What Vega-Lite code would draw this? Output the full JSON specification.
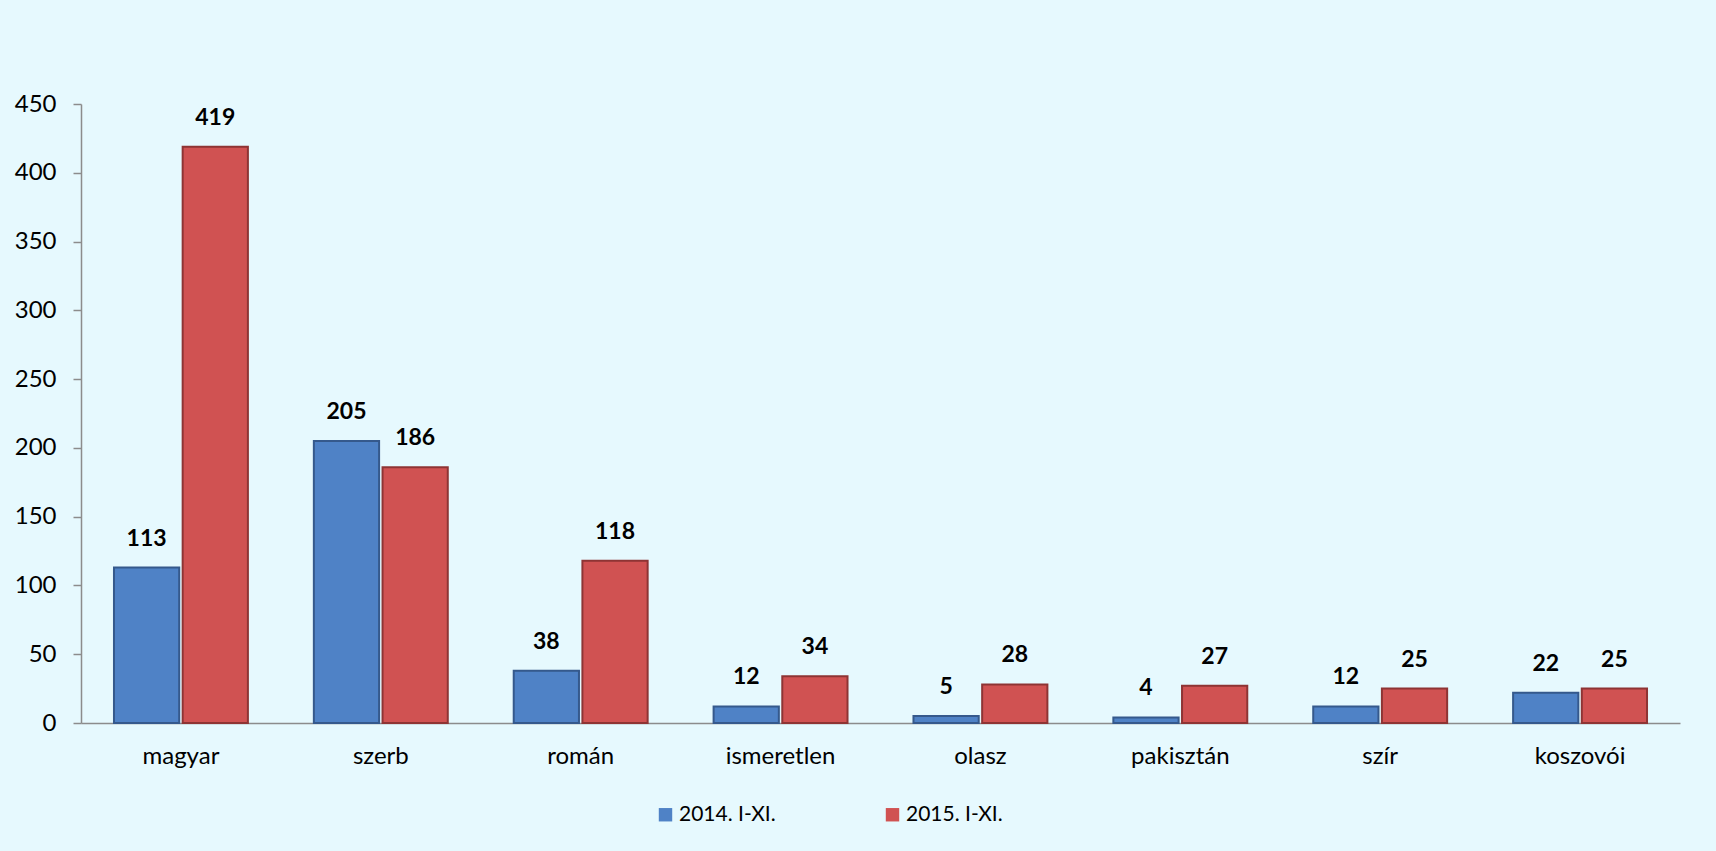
{
  "$schema": "https://vega.github.io/schema/vega-lite/v6.json",
  "autosize": {"type": "none"},
  "width": 1599,
  "height": 619,
  "padding": {"left": 81, "top": 104, "right": 36, "bottom": 128},
  "background": "#E6F9FE",
  "config": {
    "view": {"stroke": null},
    "font": "Lato",
    "axis": {"labelFont": "Lato", "labelColor": "#000000", "labelFontSize": 24, "domainColor": "#8C8C8C", "tickColor": "#8C8C8C", "grid": false, "title": null},
    "legend": {"labelFont": "Lato", "labelFontSize": 21, "labelColor": "#000000"}
  },
  "data": {
    "values": [
      {"country": "magyar", "series": "2014. I-XI.", "value": 113},
      {"country": "magyar", "series": "2015. I-XI.", "value": 419},
      {"country": "szerb", "series": "2014. I-XI.", "value": 205},
      {"country": "szerb", "series": "2015. I-XI.", "value": 186},
      {"country": "román", "series": "2014. I-XI.", "value": 38},
      {"country": "román", "series": "2015. I-XI.", "value": 118},
      {"country": "ismeretlen", "series": "2014. I-XI.", "value": 12},
      {"country": "ismeretlen", "series": "2015. I-XI.", "value": 34},
      {"country": "olasz", "series": "2014. I-XI.", "value": 5},
      {"country": "olasz", "series": "2015. I-XI.", "value": 28},
      {"country": "pakisztán", "series": "2014. I-XI.", "value": 4},
      {"country": "pakisztán", "series": "2015. I-XI.", "value": 27},
      {"country": "szír", "series": "2014. I-XI.", "value": 12},
      {"country": "szír", "series": "2015. I-XI.", "value": 25},
      {"country": "koszovói", "series": "2014. I-XI.", "value": 22},
      {"country": "koszovói", "series": "2015. I-XI.", "value": 25}
    ]
  },
  "encoding": {
    "x": {
      "field": "country", "type": "nominal", "sort": null,
      "scale": {"paddingInner": 0.33, "paddingOuter": 0.165},
      "axis": {"labelAngle": 0, "ticks": false, "labelPadding": 21, "domainWidth": 1.5}
    },
    "xOffset": {"field": "series", "type": "nominal", "scale": {"paddingInner": 0.05}},
    "y": {
      "field": "value", "type": "quantitative",
      "scale": {"domain": [0, 450], "nice": false},
      "axis": {"values": [0, 50, 100, 150, 200, 250, 300, 350, 400, 450], "tickSize": 8, "labelPadding": 17, "domainWidth": 1.5, "tickWidth": 1.5}
    }
  },
  "layer": [
    {
      "mark": {"type": "bar", "strokeWidth": 2},
      "encoding": {
        "fill": {
          "field": "series", "type": "nominal",
          "scale": {"range": ["#4F82C6", "#D05252"]},
          "legend": {"title": null, "orient": "none", "legendX": 574, "legendY": 700, "direction": "horizontal", "symbolType": "square", "symbolSize": 180, "columnPadding": 106, "labelOffset": 3, "symbolStrokeWidth": 0}
        },
        "stroke": {
          "field": "series", "type": "nominal",
          "scale": {"range": ["#35598C", "#8E3434"]},
          "legend": null
        }
      }
    },
    {
      "mark": {"type": "text", "dy": -29, "fontWeight": "bold", "fontSize": 23, "color": "#000000"},
      "encoding": {"text": {"field": "value", "type": "quantitative"}}
    }
  ]
}
